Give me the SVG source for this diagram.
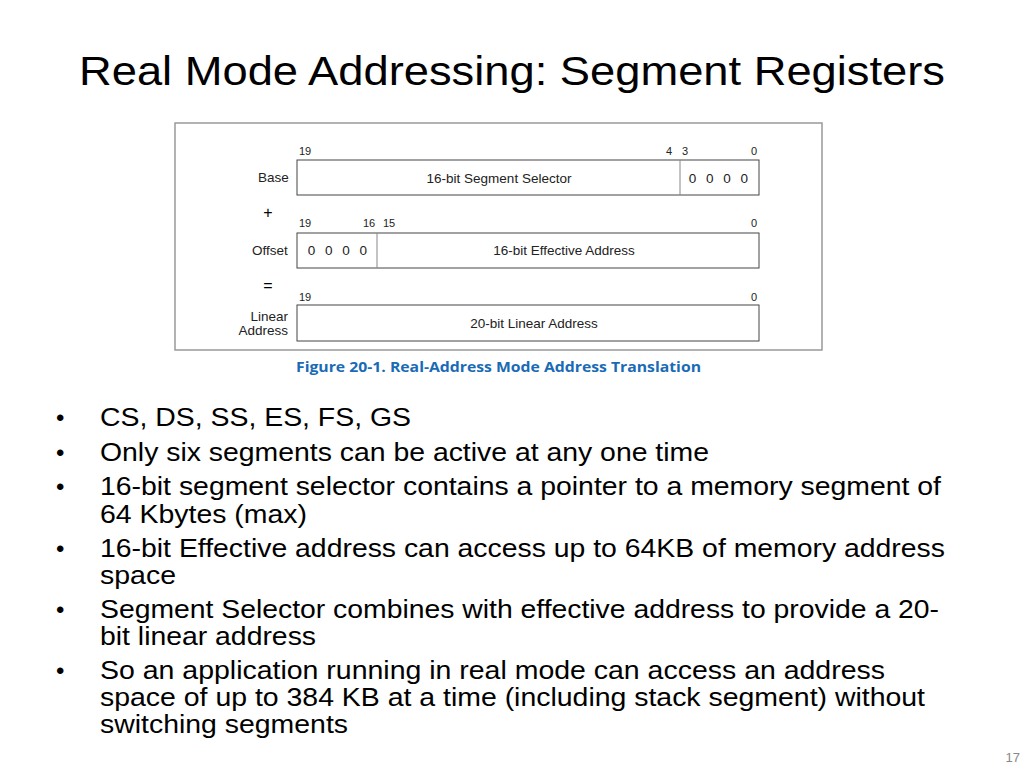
<svg xmlns="http://www.w3.org/2000/svg" width="1024" height="768" viewBox="0 0 1024 768">
<style>
.t{font-family:"Liberation Sans",Arial,sans-serif;fill:#000}
.s{font-family:"Liberation Sans",Arial,sans-serif;font-size:11px;fill:#222}
.m{font-family:"Liberation Sans",Arial,sans-serif;font-size:13.5px;fill:#222}
.z{letter-spacing:3px}
.b{fill:#fff;stroke:#444;stroke-width:1}
.d{stroke:#888;stroke-width:1}
.bl{font-family:"Liberation Sans",Arial,sans-serif;font-size:25px;fill:#000}
.u{font-size:24px}
</style>
<rect width="1024" height="768" fill="#fff"/>
<text class="t" x="79" y="85" font-size="41" textLength="866" lengthAdjust="spacingAndGlyphs">Real Mode Addressing: Segment Registers</text>
<rect x="175" y="123" width="647" height="227" fill="#fff" stroke="#999" stroke-width="1.5"/>
<g id="base">
<rect class="b" x="297" y="160" width="462" height="35"/>
<line class="d" x1="680" y1="160" x2="680" y2="195"/>
<text class="m" x="258" y="182">Base</text>
<text class="m" x="499" y="183" text-anchor="middle">16-bit Segment Selector</text>
<text class="m z" x="720" y="183" text-anchor="middle">0 0 0 0</text>
<text class="s" x="299" y="155">19</text><text class="s" x="666" y="155">4</text><text class="s" x="682" y="155">3</text><text class="s" x="751" y="155">0</text>
</g>
<text class="t" x="268" y="218" font-size="16" text-anchor="middle">+</text>
<g id="offset">
<rect class="b" x="297" y="233" width="462" height="35"/>
<line class="d" x1="377" y1="233" x2="377" y2="268"/>
<text class="m" x="252" y="255">Offset</text>
<text class="m z" x="339" y="255" text-anchor="middle">0 0 0 0</text>
<text class="m" x="564" y="255" text-anchor="middle">16-bit Effective Address</text>
<text class="s" x="299" y="227">19</text><text class="s" x="363" y="227">16</text><text class="s" x="383" y="227">15</text><text class="s" x="751" y="227">0</text>
</g>
<text class="t" x="268" y="291" font-size="16" text-anchor="middle">=</text>
<g id="linear">
<rect class="b" x="297" y="305" width="462" height="36"/>
<text class="m" x="288" y="321" text-anchor="end">Linear</text>
<text class="m" x="288" y="335" text-anchor="end">Address</text>
<text class="m" x="534" y="328" text-anchor="middle">20-bit Linear Address</text>
<text class="s" x="299" y="301">19</text><text class="s" x="751" y="301">0</text>
</g>
<text x="296" y="372" font-family="'Open Sans','Liberation Sans',sans-serif" font-size="15" font-weight="bold" fill="#1a6bb5" textLength="405" lengthAdjust="spacingAndGlyphs">Figure 20-1.  Real-Address Mode Address Translation</text>
<g class="bl">
<text class="u" x="56" y="426">•</text><text x="100" y="426" textLength="311" lengthAdjust="spacingAndGlyphs">CS, DS, SS, ES, FS, GS</text>
<text class="u" x="56" y="461">•</text><text x="100" y="461" textLength="609" lengthAdjust="spacingAndGlyphs">Only six segments can be active at any one time</text>
<text class="u" x="56" y="495">•</text><text x="100" y="495" textLength="841" lengthAdjust="spacingAndGlyphs">16-bit segment selector contains a pointer to a memory segment of</text>
<text x="100" y="523" textLength="207" lengthAdjust="spacingAndGlyphs">64 Kbytes (max)</text>
<text class="u" x="56" y="557">•</text><text x="100" y="557" textLength="845" lengthAdjust="spacingAndGlyphs">16-bit Effective address can access up to 64KB of memory address</text>
<text x="100" y="584" textLength="76" lengthAdjust="spacingAndGlyphs">space</text>
<text class="u" x="56" y="618">•</text><text x="100" y="618" textLength="839" lengthAdjust="spacingAndGlyphs">Segment Selector combines with effective address to provide a 20-</text>
<text x="100" y="645" textLength="216" lengthAdjust="spacingAndGlyphs">bit linear address</text>
<text class="u" x="56" y="679">•</text><text x="100" y="679" textLength="785" lengthAdjust="spacingAndGlyphs">So an application running in real mode can access an address</text>
<text x="100" y="706" textLength="825" lengthAdjust="spacingAndGlyphs">space of up to 384 KB at a time (including stack segment) without</text>
<text x="100" y="733" textLength="248" lengthAdjust="spacingAndGlyphs">switching segments</text>
</g>
<text x="1020" y="762" font-family="'Liberation Sans',sans-serif" font-size="13" fill="#888" text-anchor="end">17</text>
</svg>
